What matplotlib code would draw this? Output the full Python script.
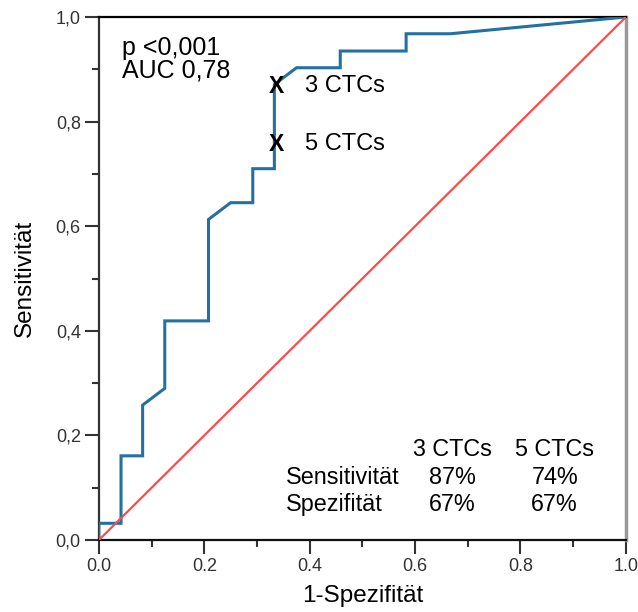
import matplotlib
matplotlib.use("Agg")
import matplotlib.pyplot as plt
from matplotlib.ticker import MultipleLocator

plt.rcParams['font.family'] = ['Liberation Sans', 'DejaVu Sans']

# ROC curve (1-specificity, sensitivity)
fpr = [0.0, 0.0, 0.042, 0.042, 0.083, 0.083, 0.125, 0.125, 0.208, 0.208, 0.25,
       0.292, 0.292, 0.333, 0.333, 0.375, 0.458, 0.458, 0.583, 0.583, 0.667, 1.0]
tpr = [0.0, 0.032, 0.032, 0.161, 0.161, 0.258, 0.29, 0.419, 0.419, 0.613, 0.645,
       0.645, 0.71, 0.71, 0.871, 0.903, 0.903, 0.935, 0.935, 0.968, 0.968, 1.0]

# cut-off markers
cut_labels = ['3 CTCs', '5 CTCs']
cut_x = [0.336, 0.336]
cut_y = [0.868, 0.757]

# summary table
table_cols = ['3 CTCs', '5 CTCs']
table_rows = ['Sensitivität', 'Spezifität']
sens_vals = ['87%', '74%']
spec_vals = ['67%', '67%']

xticks = [0.0, 0.2, 0.4, 0.6, 0.8, 1.0]
xtick_labels = ['0.0', '0.2', '0.4', '0.6', '0.8', '1.0']
yticks = [0.0, 0.2, 0.4, 0.6, 0.8, 1.0]
ytick_labels = ['0,0', '0,2', '0,4', '0,6', '0,8', '1,0']

fig = plt.figure(figsize=(6.38, 6.12), dpi=100)
ax = fig.add_axes([0.155, 0.1176, 0.826, 0.8546])

ax.plot(fpr, tpr, color='#2470a0', lw=2.2, zorder=3, solid_joinstyle='miter')
ax.plot([0, 1], [0, 1], color='#ff4a4a', lw=1.6, zorder=4)

for lab, x, y in zip(cut_labels, cut_x, cut_y):
    ax.text(x, y, 'X', fontsize=16.5, fontweight='bold', ha='center', va='center', zorder=5)
    ax.text(0.391, y, lab, fontsize=17, ha='left', va='center')

ax.text(0.044, 0.927, 'p <0,001', fontsize=18, ha='left', va='baseline')
ax.text(0.044, 0.885, 'AUC 0,78', fontsize=18, ha='left', va='baseline')

# table in the lower right
col_x = [0.671, 0.865]
for cx, c in zip(col_x, table_cols):
    ax.text(cx, 0.161, c, fontsize=16.8, ha='center', va='baseline')
ax.text(0.355, 0.107, table_rows[0], fontsize=16.8, ha='left', va='baseline')
ax.text(0.355, 0.055, table_rows[1], fontsize=16.8, ha='left', va='baseline')
for cx, s, p in zip(col_x, sens_vals, spec_vals):
    ax.text(cx, 0.107, s, fontsize=16.8, ha='center', va='baseline')
    ax.text(cx, 0.055, p, fontsize=16.8, ha='center', va='baseline')

ax.set_xlim(0, 1)
ax.set_ylim(0, 1)
ax.set_xticks(xticks)
ax.set_xticklabels(xtick_labels)
ax.set_yticks(yticks)
ax.set_yticklabels(ytick_labels)
ax.xaxis.set_minor_locator(MultipleLocator(0.1))
ax.yaxis.set_minor_locator(MultipleLocator(0.1))
ax.tick_params(which='major', direction='out', length=10, width=1.5, color='#333333',
               labelsize=13, labelcolor='#333333', pad=3)
ax.tick_params(which='minor', direction='out', length=5, width=1.5, color='#333333')

ax.set_xlabel('1-Spezifität', fontsize=17.5, labelpad=7)
ax.set_ylabel('Sensitivität', fontsize=17.5, labelpad=14)

ax.spines['left'].set_color('#333333')
ax.spines['left'].set_linewidth(1.6)
ax.spines['bottom'].set_color('#111111')
ax.spines['bottom'].set_linewidth(1.6)
ax.spines['top'].set_color('black')
ax.spines['top'].set_linewidth(1.6)
ax.spines['right'].set_color('#999999')
ax.spines['right'].set_linewidth(2.5)

fig.savefig('out.png', dpi=100)
